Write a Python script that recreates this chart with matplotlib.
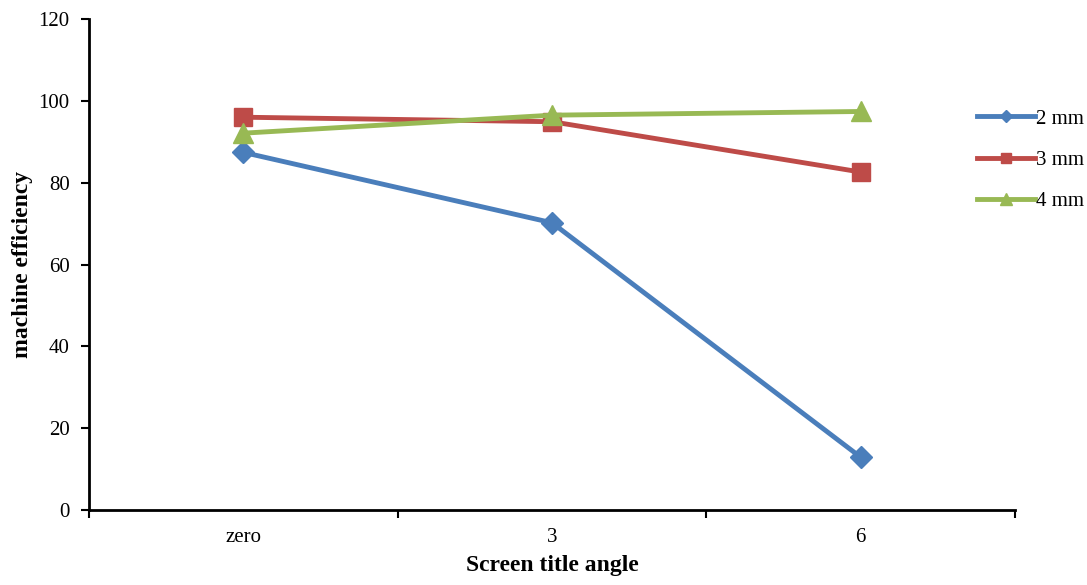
import matplotlib.pyplot as plt

# tilt angle categories and efficiency per screen aperture
angles = ["zero", "3", "6"]
eff_2mm = [87.4, 70.2, 12.9]
eff_3mm = [96.0, 94.9, 82.6]
eff_4mm = [92.1, 96.5, 97.4]

plt.rcParams['font.family'] = ['Liberation Serif', 'DejaVu Serif']

fig = plt.figure(figsize=(10.87, 5.85), dpi=100)
ax = fig.add_axes([0.0819, 0.1282, 0.8519, 0.8393])

x = range(len(angles))
ax.plot(x, eff_2mm, color="#4a7ebb", lw=3.5, marker="D", ms=11, label="2 mm")
ax.plot(x, eff_3mm, color="#be4b48", lw=3.5, marker="s", ms=13, label="3 mm")
ax.plot(x, eff_4mm, color="#98b954", lw=3.5, marker="^", ms=15, label="4 mm")

ax.set_xlim(-0.5, len(angles) - 0.5)
ax.set_ylim(0, 120)
ax.set_yticks(range(0, 121, 20))
ax.set_xticks([i - 0.5 for i in range(len(angles) + 1)])
ax.set_xticklabels([])
ax.set_xticks(list(x), minor=True)
ax.set_xticklabels(angles, minor=True, fontsize=15)
ax.tick_params(axis="x", which="minor", length=0, pad=13)
ax.tick_params(axis="x", which="major", direction="out", length=6, width=1.5)
ax.tick_params(axis="y", direction="out", length=6, width=1.5, labelsize=15, pad=8)

for side in ["top", "right"]:
    ax.spines[side].set_visible(False)
for side in ["left", "bottom"]:
    ax.spines[side].set_linewidth(2)

ax.set_xlabel("Screen title angle", fontsize=17, fontweight="bold", labelpad=6)
ax.set_ylabel("machine efficiency", fontsize=17, fontweight="bold", labelpad=4)

fig.legend(loc="upper left", bbox_to_anchor=(0.891, 0.828), frameon=False,
           fontsize=15, handlelength=2.8, handletextpad=0.05,
           labelspacing=1.05, markerscale=0.55, borderaxespad=0)

plt.savefig("out.png", dpi=100)
